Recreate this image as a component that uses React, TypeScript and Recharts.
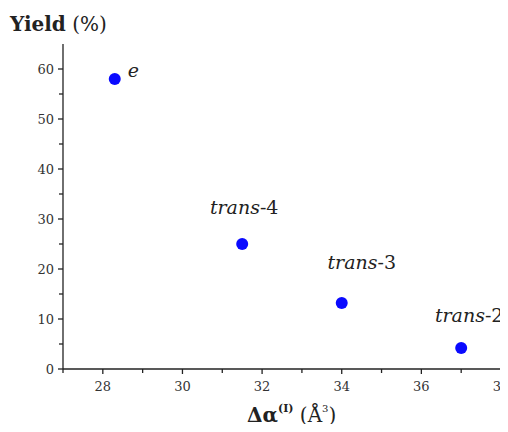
import React from 'react';
import { ScatterChart, Scatter, XAxis, YAxis, LabelList, Label } from 'recharts';

const polarizability = [28.3, 31.5, 34, 37];
const yieldValues = [58, 25, 13.2, 4.2];
const compoundItalic = ['e', 'trans', 'trans', 'trans'];
const compoundSuffix = ['', '-4', '-3', '-2'];

const xTicks = [27, 28, 29, 30, 31, 32, 33, 34, 35, 36, 37, 38];
const yTicks = [0, 5, 10, 15, 20, 25, 30, 35, 40, 45, 50, 55, 60];

// label offsets relative to each point (dx, dy, anchor)
const labelOffsets = [
  { dx: 13, dy: -2, anchor: 'start' },
  { dx: 2, dy: -30, anchor: 'middle' },
  { dx: 20, dy: -34, anchor: 'middle' },
  { dx: 8, dy: -26, anchor: 'middle' },
];

const data = polarizability.map((x, i) => ({
  x,
  y: yieldValues[i],
  italic: compoundItalic[i],
  suffix: compoundSuffix[i],
}));

const FONT = '"DejaVu Serif", "Liberation Serif", serif';
const AXIS = '#222';

const XTick = (props: any) => {
  const { x, y, payload } = props;
  const major = payload.value % 2 === 0;
  const axisY = y - 7;
  return (
    <g>
      <line x1={x} x2={x} y1={axisY} y2={axisY + (major ? 5 : 4)} stroke={AXIS} strokeWidth={1.3} />
      {major && (
        <text x={x} y={axisY + 22} textAnchor="middle" fontSize={13} fontFamily={FONT} fill="#333">
          {payload.value}
        </text>
      )}
    </g>
  );
};

const YTick = (props: any) => {
  const { x, y, payload } = props;
  const major = payload.value % 10 === 0;
  const axisX = x + 7;
  return (
    <g>
      <line x1={axisX} x2={axisX - (major ? 5 : 4)} y1={y} y2={y} stroke={AXIS} strokeWidth={1.3} />
      {major && (
        <text x={axisX - 9} y={y + 5} textAnchor="end" fontSize={13} fontFamily={FONT} fill="#333">
          {payload.value}
        </text>
      )}
    </g>
  );
};

const CompoundLabel = (props: any) => {
  const { x, y, width, height, index } = props;
  const cx = x + width / 2;
  const cy = y + height / 2;
  const o = labelOffsets[index];
  const d = data[index];
  return (
    <text x={cx + o.dx} y={cy + o.dy} textAnchor={o.anchor} fontSize={19} fontFamily={FONT} fill="#222">
      <tspan fontStyle="italic">{d.italic}</tspan>
      <tspan>{d.suffix}</tspan>
    </text>
  );
};

const YTitle = () => (
  <text x={10} y={31} fontSize={20} fontFamily={FONT} fill="#222">
    <tspan fontWeight="bold">Yield</tspan>
    <tspan> (%)</tspan>
  </text>
);

const XTitle = () => (
  <text x={247} y={422} fontSize={20} fontFamily={FONT} fill="#222">
    <tspan fontWeight="bold">Δα</tspan>
    <tspan fontWeight="bold" fontSize={11} dy={-10}>(I)</tspan>
    <tspan dy={10}> (Å</tspan>
    <tspan fontSize={10} dy={-10}>3</tspan>
    <tspan dy={10}>)</tspan>
  </text>
);

export default function App() {
  return (
    <div style={{ margin: -8, width: 508, height: 432, background: '#fff' }}>
      <ScatterChart width={508} height={432} margin={{ top: 44, right: 7, bottom: 33, left: 0 }}>
        <XAxis
          type="number"
          dataKey="x"
          domain={[27, 38]}
          ticks={xTicks}
          interval={0}
          tickLine={false}
          tickSize={5}
          tickMargin={2}
          tick={<XTick />}
          height={30}
          stroke={AXIS}
          strokeWidth={1.3}
        >
          <Label content={<XTitle />} />
        </XAxis>
        <YAxis
          type="number"
          dataKey="y"
          domain={[0, 65]}
          ticks={yTicks}
          interval={0}
          tickLine={false}
          tickSize={5}
          tickMargin={2}
          tick={<YTick />}
          width={63}
          stroke={AXIS}
          strokeWidth={1.3}
        >
          <Label content={<YTitle />} />
        </YAxis>
        <Scatter data={data} fill="#0000ff" isAnimationActive={false} shape={(p: any) => <circle cx={p.cx} cy={p.cy} r={6} fill="#0a0aff" />}>
          <LabelList dataKey="x" content={<CompoundLabel />} />
        </Scatter>
      </ScatterChart>
    </div>
  );
}
